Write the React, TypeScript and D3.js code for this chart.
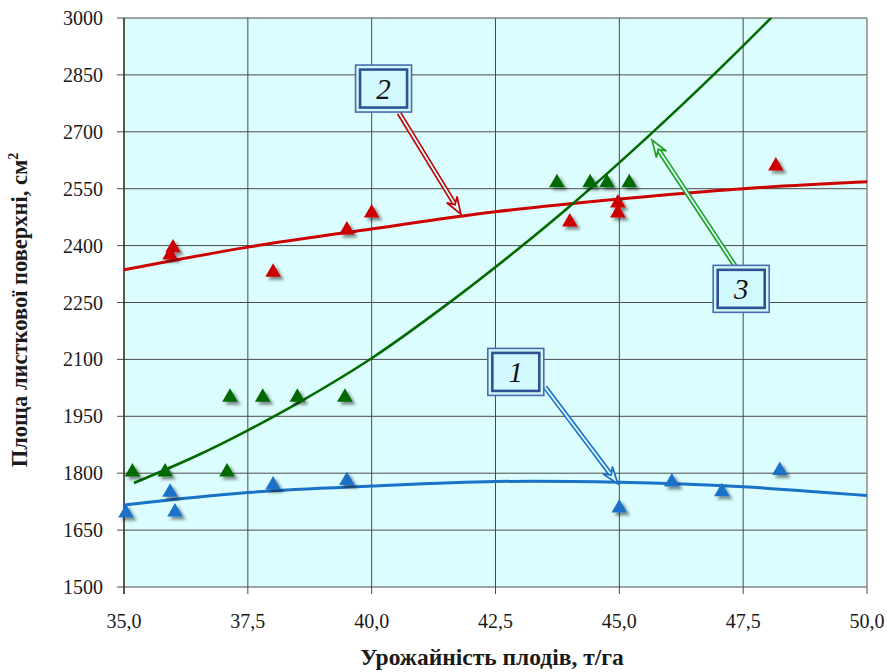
import React, { useEffect, useRef } from "react";
import * as d3 from "d3";

const size = { width: 887, height: 672, left: 124, right: 867, top: 18, bottom: 587 };
const font = "Liberation Serif, DejaVu Serif, serif";

const xTicks = [35, 37.5, 40, 42.5, 45, 47.5, 50];
const yTicks = [1500, 1650, 1800, 1950, 2100, 2250, 2400, 2550, 2700, 2850, 3000];

// 1 - blue
const yield1 = [35.04, 35.93, 36.03, 38.01, 39.5, 45.0, 46.06, 47.07, 48.24];
const area1 = [1695, 1750, 1698, 1769, 1781, 1708, 1777, 1751, 1807];
// 2 - red
const yield2 = [35.93, 35.99, 38.01, 39.5, 40.0, 44.0, 44.97, 44.97, 48.16];
const area2 = [2375, 2394, 2330, 2441, 2486, 2462, 2512, 2486, 2610];
// 3 - green
const yield3 = [35.17, 35.83, 37.08, 37.14, 37.8, 38.5, 39.46, 43.74, 44.41, 44.75, 45.2];
const area3 = [1803, 1803, 1803, 2000, 2000, 2000, 2000, 2566, 2566, 2566, 2566];

// trend lines
const trend1X = [35, 37.5, 40, 42.5, 45, 47.5, 50];
const trend1Y = [1716, 1749, 1766, 1778, 1776, 1764, 1741];
const trend2X = [35, 37.5, 40, 42.5, 45, 47.5, 50];
const trend2Y = [2336, 2396, 2444, 2489, 2523, 2550, 2568];
const trend3X = [35.2, 36.5, 37.5, 38.5, 40, 41.5, 42.9, 44.1, 45.6, 46.9, 48.1, 48.4];
const trend3Y = [1774, 1848, 1913, 1984, 2103, 2243, 2385, 2515, 2690, 2850, 3005, 3045];

// callouts
const calloutLabels = ["1", "2", "3"];
const calloutX = [42.91, 40.24, 47.46];
const calloutY = [2067, 2814, 2286];
const arrowFromX = [43.5, 40.55, 47.34];
const arrowFromY = [2027, 2750, 2346];
const arrowToX = [44.97, 41.8, 45.66];
const arrowToY = [1772, 2483, 2678];
const arrowColors = ["#1a6fc4", "#c00000", "#1f9e1f"];

const series = [
  { xs: yield1, ys: area1, tx: trend1X, ty: trend1Y, color: "#1a72c6", width: 3 },
  { xs: yield2, ys: area2, tx: trend2X, ty: trend2Y, color: "#cc0000", width: 3 },
  { xs: yield3, ys: area3, tx: trend3X, ty: trend3Y, color: "#006a00", width: 2.6 }
];

const bg = "#dcfdfd";

const App = () => {
  const ref = useRef<SVGSVGElement>(null);

  useEffect(() => {
    const svg = d3.select(ref.current);
    svg.selectAll("*").remove();

    const x = d3.scaleLinear().domain([35, 50]).range([size.left, size.right]);
    const y = d3.scaleLinear().domain([1500, 3000]).range([size.bottom, size.top]);

    const defs = svg.append("defs");
    defs
      .append("clipPath")
      .attr("id", "plot")
      .append("rect")
      .attr("x", size.left)
      .attr("y", size.top)
      .attr("width", size.right - size.left)
      .attr("height", size.bottom - size.top);
    defs
      .append("filter")
      .attr("id", "shadow")
      .attr("x", "-50%")
      .attr("y", "-50%")
      .attr("width", "200%")
      .attr("height", "200%")
      .append("feDropShadow")
      .attr("dx", 3)
      .attr("dy", 3)
      .attr("stdDeviation", 1.8)
      .attr("flood-color", "#000")
      .attr("flood-opacity", 0.45);

    svg
      .append("rect")
      .attr("x", size.left)
      .attr("y", size.top)
      .attr("width", size.right - size.left)
      .attr("height", size.bottom - size.top)
      .attr("fill", bg);

    // grid
    svg
      .append("g")
      .selectAll("line")
      .data(yTicks)
      .enter()
      .append("line")
      .attr("x1", size.left - 7)
      .attr("x2", size.right)
      .attr("y1", d => y(d))
      .attr("y2", d => y(d))
      .attr("stroke", "#4a4a4a")
      .attr("stroke-width", 1);
    svg
      .append("g")
      .selectAll("line")
      .data(xTicks)
      .enter()
      .append("line")
      .attr("x1", d => x(d))
      .attr("x2", d => x(d))
      .attr("y1", size.top)
      .attr("y2", size.bottom + 7)
      .attr("stroke", d => (d === 50 ? "#8a8a8a" : "#4a4a4a"))
      .attr("stroke-width", d => (d === 50 ? 1.5 : 1));
    svg
      .append("line")
      .attr("x1", size.left)
      .attr("x2", size.left)
      .attr("y1", size.top)
      .attr("y2", size.bottom + 7)
      .attr("stroke", "#303030")
      .attr("stroke-width", 1.3);

    // tick labels
    svg
      .append("g")
      .selectAll("text")
      .data(yTicks)
      .enter()
      .append("text")
      .attr("x", 103)
      .attr("y", d => y(d) + 7)
      .attr("text-anchor", "end")
      .attr("font-family", font)
      .attr("font-size", 20)
      .attr("fill", "#1a1a1a")
      .text(d => d);
    svg
      .append("g")
      .selectAll("text")
      .data(xTicks)
      .enter()
      .append("text")
      .attr("x", d => x(d))
      .attr("y", 628)
      .attr("text-anchor", "middle")
      .attr("font-family", font)
      .attr("font-size", 20)
      .attr("fill", "#1a1a1a")
      .text(d => d3.format(".1f")(d).replace(".", ","));

    // axis titles
    const yTitle = svg
      .append("text")
      .attr("transform", "translate(27 310) rotate(-90)")
      .attr("text-anchor", "middle")
      .attr("font-family", font)
      .attr("font-size", 22.5)
      .attr("font-weight", "bold")
      .attr("fill", "#1a1a1a");
    yTitle.append("tspan").text("Площа листкової поверхні, см");
    yTitle.append("tspan").attr("dy", -9).attr("font-size", 14).text("2");
    svg
      .append("text")
      .attr("x", 492)
      .attr("y", 665)
      .attr("text-anchor", "middle")
      .attr("font-family", font)
      .attr("font-size", 23.5)
      .attr("font-weight", "bold")
      .attr("fill", "#1a1a1a")
      .text("Урожайність плодів, т/га");

    // trend lines
    const plot = svg.append("g").attr("clip-path", "url(#plot)");
    const line = d3.line<number>().curve(d3.curveCatmullRom.alpha(0.5));
    series.forEach(s => {
      plot
        .append("path")
        .attr("d", line.x(i => x(s.tx[i])).y(i => y(s.ty[i]))(d3.range(s.tx.length)))
        .attr("fill", "none")
        .attr("stroke", s.color)
        .attr("stroke-width", s.width);
    });

    // markers
    const tri = d3.symbol().type(d3.symbolTriangle).size(105);
    series.forEach(s => {
      svg
        .append("g")
        .attr("filter", "url(#shadow)")
        .selectAll("path")
        .data(s.xs.map((v, i) => [v, s.ys[i]]))
        .enter()
        .append("path")
        .attr("d", tri)
        .attr("transform", d => `translate(${x(d[0])} ${y(d[1])})`)
        .attr("fill", s.color);
    });

    // callout arrows
    calloutLabels.forEach((_, i) => {
      const x0 = x(arrowFromX[i]);
      const y0 = y(arrowFromY[i]);
      const x1 = x(arrowToX[i]);
      const y1 = y(arrowToY[i]);
      const len = Math.hypot(x1 - x0, y1 - y0);
      const ux = (x1 - x0) / len;
      const uy = (y1 - y0) / len;
      const nx = -uy;
      const ny = ux;
      const notch = 11;
      const headL = 17;
      const w = 6;
      const g = svg.append("g");
      const shaft = `M${x0},${y0}L${x1 - ux * notch},${y1 - uy * notch}`;
      g.append("path").attr("d", shaft).attr("stroke", arrowColors[i]).attr("stroke-width", 5);
      g.append("path").attr("d", shaft).attr("stroke", bg).attr("stroke-width", 1.8);
      const head = [
        [x1, y1],
        [x1 - ux * headL + nx * w, y1 - uy * headL + ny * w],
        [x1 - ux * notch, y1 - uy * notch],
        [x1 - ux * headL - nx * w, y1 - uy * headL - ny * w]
      ];
      g.append("path")
        .attr("d", "M" + head.map(p => p.join(",")).join("L") + "Z")
        .attr("fill", bg)
        .attr("stroke", arrowColors[i])
        .attr("stroke-width", 1.7)
        .attr("stroke-linejoin", "miter");
    });

    // callout boxes
    calloutLabels.forEach((label, i) => {
      const cx = x(calloutX[i]);
      const cy = y(calloutY[i]);
      const g = svg.append("g").attr("transform", `translate(${cx} ${cy})`);
      g.append("rect")
        .attr("x", -28)
        .attr("y", -23.5)
        .attr("width", 56)
        .attr("height", 47)
        .attr("fill", "#d2f7fb")
        .attr("stroke", "#4a6cae")
        .attr("stroke-width", 1.6);
      g.append("rect")
        .attr("x", -23.5)
        .attr("y", -19)
        .attr("width", 47)
        .attr("height", 38)
        .attr("fill", "#d2f9fd")
        .attr("stroke", "#2c5495")
        .attr("stroke-width", 2.6);
      g.append("text")
        .attr("x", 0)
        .attr("y", 10)
        .attr("text-anchor", "middle")
        .attr("font-family", font)
        .attr("font-size", 29)
        .attr("font-style", "italic")
        .attr("fill", "#111")
        .text(label);
    });
  }, []);

  return (
    <svg
      ref={ref}
      width={size.width}
      height={size.height}
      style={{ position: "absolute", left: 0, top: 0, background: "#fff" }}
    />
  );
};

export default App;
